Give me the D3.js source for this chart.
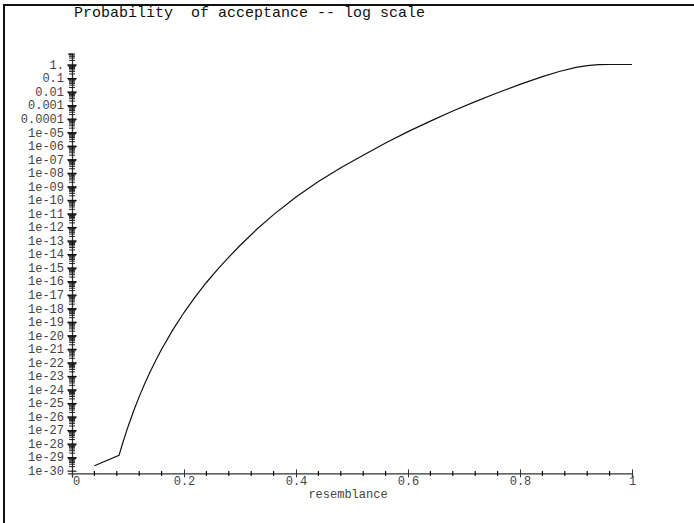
<!DOCTYPE html>
<html><head><meta charset="utf-8">
<script src="https://cdn.jsdelivr.net/npm/d3@7"></script>
<style>body{margin:0;background:#fff} svg{display:block}</style>
</head><body>
<script>
const titleText = "Probability  of acceptance -- log scale";
const xLabelText = "resemblance";

const resemblance = [0.04, 0.084, 0.09, 0.10, 0.11, 0.12, 0.13, 0.14, 0.15, 0.16, 0.18, 0.20, 0.22, 0.24, 0.26, 0.28, 0.30, 0.33, 0.36, 0.40, 0.44, 0.48, 0.52, 0.56, 0.60, 0.64, 0.68, 0.72, 0.76, 0.80, 0.84, 0.87, 0.90, 0.92, 0.94, 0.96, 1.0];
const acceptance = [2.29e-30, 1.35e-29, 9.33e-29, 1.78e-27, 2.57e-26, 2.95e-25, 2.75e-24, 2.19e-23, 1.51e-22, 9.33e-22, 2.51e-20, 4.79e-19, 6.92e-18, 7.94e-17, 7.41e-16, 5.89e-15, 4.27e-14, 6.76e-13, 8.13e-12, 1.62e-10, 2.24e-9, 2.34e-8, 2.0e-7, 1.58e-6, 1.10e-5, 6.61e-5, 3.63e-4, 1.80e-3, 8.17e-3, 3.38e-2, 0.1266, 0.3047, 0.6155, 0.8365, 0.9686, 0.9989, 1.0];

const xTickValues = [0, 0.2, 0.4, 0.6, 0.8, 1];
const xTickLabels = ["0", "0.2", "0.4", "0.6", "0.8", "1"];
const xMinorValues = [0.04, 0.08, 0.12, 0.16, 0.24, 0.28, 0.32, 0.36, 0.44, 0.48, 0.52, 0.56, 0.64, 0.68, 0.72, 0.76, 0.84, 0.88, 0.92, 0.96];

const yTickExponents = [0,-1,-2,-3,-4,-5,-6,-7,-8,-9,-10,-11,-12,-13,-14,-15,-16,-17,-18,-19,-20,-21,-22,-23,-24,-25,-26,-27,-28,-29,-30];
const yTickLabels = ["1.","0.1","0.01","0.001","0.0001","1e-05","1e-06","1e-07","1e-08","1e-09","1e-10","1e-11","1e-12","1e-13","1e-14","1e-15","1e-16","1e-17","1e-18","1e-19","1e-20","1e-21","1e-22","1e-23","1e-24","1e-25","1e-26","1e-27","1e-28","1e-29","1e-30"];
const yMinorMultipliers = [2,3,4,5,6,7,8,9];

const W = 694, H = 523;
const svg = d3.select("body").append("svg").attr("width", W).attr("height", H);

// frame
svg.append("line").attr("x1", 4).attr("x2", W).attr("y1", 5).attr("y2", 5).attr("stroke", "#111").attr("stroke-width", 2);
svg.append("line").attr("x1", 4).attr("x2", 4).attr("y1", 4).attr("y2", H).attr("stroke", "#111").attr("stroke-width", 2);

const x = d3.scaleLinear().domain([0, 1]).range([72, 632]);
const pxPerDecade = 13.54;
const yBottom = 473.4;
const y = d3.scaleLog().domain([Math.pow(10, -30.2), Math.pow(10, 0.8)]).range([yBottom, yBottom - 31 * pxPerDecade]);

const font = "'Liberation Mono', 'DejaVu Sans Mono', monospace";

// title
svg.append("text").attr("x", 74).attr("y", 17).attr("font-family", font).attr("font-size", 15)
  .attr("fill", "#111").attr("xml:space", "preserve").style("white-space", "pre").text(titleText);

// x axis
const xAxis = d3.axisBottom(x).tickValues(xTickValues).tickFormat((d, i) => xTickLabels[i]).tickSizeOuter(0).tickSize(4).tickPadding(5);
const gx = svg.append("g").attr("transform", `translate(0,${yBottom})`).call(xAxis);
gx.select(".domain").attr("stroke", "#333").attr("stroke-width", 1.3);
gx.selectAll(".tick line").attr("y1", -4).attr("y2", 4).attr("stroke", "#333");
gx.selectAll(".tick text").attr("font-family", font).attr("font-size", 12).attr("fill", "#444")
  .attr("dx", (d) => d === 0 ? 4 : 0).attr("y", 12).attr("dy", 0);
gx.selectAll(".minor").data(xMinorValues).enter().append("line").attr("class", "minor")
  .attr("x1", d => x(d)).attr("x2", d => x(d)).attr("y1", -2.5).attr("y2", 2.5).attr("stroke", "#111").attr("stroke-width", 1.2);

// y axis
const yMajor = yTickExponents.map(e => Math.pow(10, e));
const yAxis = d3.axisLeft(y).tickValues(yMajor).tickFormat((d, i) => yTickLabels[i]).tickSizeOuter(0).tickSize(4).tickPadding(4);
const gy = svg.append("g").attr("transform", `translate(${x(0)},0)`).call(yAxis);
gy.select(".domain").attr("stroke", "#333").attr("stroke-width", 1.3);
gy.selectAll(".tick line").attr("x1", -4.5).attr("x2", 4.5).attr("stroke", "#111").attr("stroke-width", 1.1);
gy.selectAll(".tick text").attr("font-family", font).attr("font-size", 12).attr("fill", "#444").attr("x", -8);

const yMinor = [];
yTickExponents.forEach(e => {
  yMinorMultipliers.forEach(k => {
    const v = k * Math.pow(10, e);
    if (v <= y.domain()[1]) yMinor.push({v, k});
  });
});
const halfW = {2: 3, 3: 3, 4: 3, 5: 3, 6: 3, 7: 3.5, 8: 4, 9: 4.5};
gy.selectAll(".minor").data(yMinor).enter().append("line").attr("class", "minor")
  .attr("x1", d => -halfW[d.k]).attr("x2", d => halfW[d.k])
  .attr("y1", d => y(d.v)).attr("y2", d => y(d.v))
  .attr("stroke", "#111").attr("stroke-width", 0.9);

// x label
svg.append("text").attr("x", 348).attr("y", 498).attr("text-anchor", "middle").attr("font-family", font)
  .attr("font-size", 12).attr("fill", "#444").text(xLabelText);

// curve
const pts = resemblance.map((r, i) => [r, acceptance[i]]);
const line = d3.line().x(d => x(d[0])).y(d => y(d[1])).curve(d3.curveLinear);
svg.append("path").datum(pts).attr("d", line).attr("fill", "none").attr("stroke", "#111").attr("stroke-width", 1.2);
</script>
</body></html>
